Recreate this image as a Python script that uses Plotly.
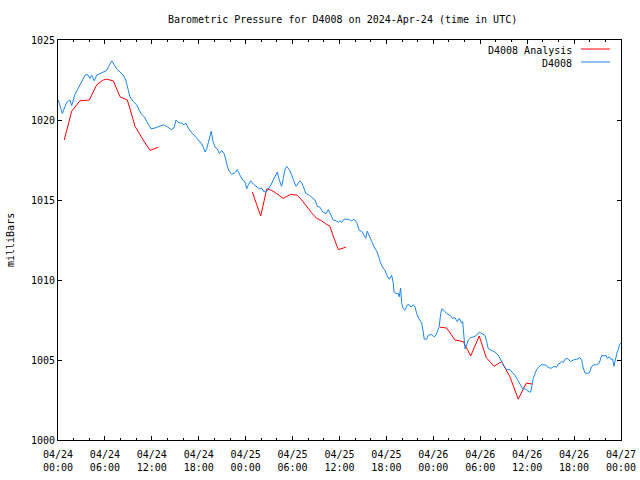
import pandas as pd
import plotly.graph_objects as go

START = pd.Timestamp("2024-04-24 00:00")

# D4008 observations: hours since start, pressure (mb)
obs_hours = [0.04, 0.55, 1.1, 1.53, 1.75, 2.17, 2.6, 3.03, 3.45, 3.75, 4.1, 4.3, 4.64, 4.95, 5.37, 5.8,
             6.23, 6.43, 6.87, 7.2, 7.5, 7.93, 8.35, 8.66, 8.9, 9.2, 9.63, 10.06, 10.6, 11.04, 11.47, 11.9,
             12.4, 13.04, 13.46, 13.9, 14.5, 14.83, 15.09, 15.38, 15.82, 16.11, 16.37, 16.66, 17.1, 17.52,
             17.94, 18.38, 18.58, 18.8, 19.02, 19.35, 19.6, 19.78, 20.08, 20.37, 20.63, 20.93, 21.23, 21.48,
             21.65, 21.9, 22.21, 22.63, 22.93, 23.27, 23.62, 23.91, 24.13, 24.34, 24.64, 24.97, 25.41, 25.74,
             26.05, 26.25, 26.69, 26.94, 27.24, 27.53, 27.88, 28.04, 28.3, 28.6, 28.81, 29.03, 29.25, 29.58,
             29.89, 30.18, 30.43, 30.73, 30.95, 31.16, 31.46, 31.71, 32.14, 32.57, 32.86, 33.16, 33.5, 33.85,
             34.27, 34.57, 34.87, 35.2, 35.55, 35.84, 36.06, 36.28, 36.57, 37.12, 37.56, 37.85, 38.2, 38.53,
             38.84, 39.13, 39.35, 39.55, 39.81, 40.12, 40.41, 40.75, 41.09, 41.18, 41.52, 41.82, 42.11, 42.37,
             42.67, 42.88, 42.97, 43.22, 43.52, 43.64, 43.82, 43.95, 44.16, 44.37, 44.67, 44.92, 45.14, 45.43,
             45.65, 45.87, 46.2, 46.51, 46.71, 46.84, 47.15, 47.35, 47.79, 48.08, 48.34, 48.5, 48.76, 48.94,
             49.1, 49.36, 49.71, 50.13, 50.47, 50.77, 51.06, 51.32, 51.62, 51.75, 51.92, 52.05, 52.26, 52.47,
             52.78, 53.2, 53.54, 53.87, 54.18, 54.6, 54.82, 55.03, 55.46, 55.88, 56.3, 56.61, 56.87, 57.16,
             57.46, 57.8, 58.14, 58.44, 58.73, 58.99, 59.16, 59.42, 59.72, 60.01, 60.27, 60.45, 60.58, 60.78,
             61.0, 61.21, 61.55, 61.85, 62.28, 62.57, 62.83, 63.13, 63.43, 63.77, 63.98, 64.19, 64.41, 64.62,
             64.83, 65.13, 65.38, 65.56, 65.9, 66.33, 66.75, 66.97, 67.17, 67.39, 67.68, 67.94, 68.25, 68.54,
             68.89, 69.22, 69.53, 69.82, 70.08, 70.25, 70.5, 70.68, 70.94, 71.1, 71.23, 71.36, 71.52, 71.7,
             71.78, 72.0]
obs_mb = [1021.25, 1020.4, 1021.1, 1021.25, 1020.9, 1021.6, 1022.0, 1022.4, 1022.8, 1022.85, 1022.6, 1022.8,
          1022.45, 1022.8, 1022.9, 1023.0, 1023.1, 1023.3, 1023.7, 1023.45, 1023.2, 1023.0, 1022.8, 1022.5,
          1022.0, 1021.45, 1021.15, 1020.95, 1020.4, 1020.2, 1019.8, 1019.45, 1019.5, 1019.6, 1019.7, 1019.6,
          1019.4, 1019.5, 1020.0, 1019.85, 1019.8, 1019.7, 1019.8, 1019.5, 1019.2, 1019.0, 1018.75, 1018.5,
          1018.3, 1018.0, 1018.2, 1018.75, 1019.3, 1018.75, 1018.3, 1018.2, 1017.9, 1018.1, 1017.9, 1017.5,
          1017.1, 1016.8, 1016.6, 1016.7, 1016.9, 1016.55, 1016.25, 1016.15, 1015.7, 1015.95, 1016.2, 1016.0,
          1015.8, 1015.7, 1015.75, 1015.55, 1015.55, 1015.7, 1015.95, 1016.25, 1016.65, 1016.75, 1016.25,
          1015.85, 1016.35, 1016.9, 1017.1, 1016.9, 1016.55, 1016.15, 1015.85, 1016.05, 1016.2, 1016.1,
          1015.7, 1015.4, 1015.3, 1015.1, 1015.0, 1014.6, 1014.55, 1014.25, 1014.15, 1014.4, 1014.05, 1013.75,
          1013.7, 1013.6, 1013.7, 1013.6, 1013.8, 1013.8, 1013.7, 1013.8, 1013.6, 1013.1, 1013.05, 1012.8,
          1012.6, 1013.05, 1012.8, 1012.4, 1012.1, 1011.8, 1011.35, 1011.15, 1010.8, 1010.6, 1010.25, 1010.05,
          1010.3, 1009.8, 1009.25, 1009.15, 1009.15, 1008.95, 1009.5, 1008.55, 1008.2, 1008.1, 1008.45,
          1008.45, 1008.3, 1008.45, 1008.35, 1007.9, 1007.55, 1007.3, 1006.75, 1006.3, 1006.3, 1006.55, 1006.6,
          1006.45, 1006.55, 1006.75, 1007.1, 1007.9, 1008.2, 1008.1, 1007.9, 1007.8, 1007.6, 1007.65, 1007.4,
          1007.6, 1007.3, 1007.4, 1006.45, 1005.7, 1005.95, 1006.25, 1006.4, 1006.45, 1006.55, 1006.75,
          1006.65, 1006.55, 1006.15, 1005.7, 1005.6, 1005.5, 1005.3, 1005.0, 1004.7, 1004.5, 1004.4, 1004.4,
          1004.2, 1004.05, 1003.8, 1003.55, 1003.35, 1003.2, 1003.2, 1003.1, 1003.0, 1003.0, 1003.4, 1003.85,
          1004.15, 1004.4, 1004.6, 1004.7, 1004.7, 1004.6, 1004.5, 1004.5, 1004.6, 1004.55, 1004.75, 1004.8,
          1004.9, 1004.85, 1005.05, 1005.1, 1005.0, 1004.9, 1005.0, 1005.05, 1005.15, 1005.0, 1004.5, 1004.2,
          1004.15, 1004.2, 1004.6, 1004.7, 1004.7, 1004.8, 1005.3, 1005.25, 1005.3, 1005.1, 1005.2, 1005.05,
          1005.05, 1004.6, 1004.9, 1005.25, 1005.5, 1005.7, 1005.95, 1006.05]

# D4008 Analysis: hours since start (None = gap), pressure (mb)
ana_hours = [0.8, 1.75, 2.8, 4.0, 4.95, 5.8, 6.2, 6.87, 7.07, 7.93, 8.86, 9.33, 9.85, 10.9, 11.76, 12.83,
             None,
             24.85, 25.92, 26.7, 27.33, 27.97, 28.8, 29.73, 30.6, 31.16, 31.78, 32.44, 33.08, 33.72, 34.27,
             34.78, 35.23, 35.84, 36.83,
             None,
             48.85, 49.7, 50.77, 51.83, 52.78, 53.87, 54.77, 55.75, 56.74, 57.8, 58.86, 59.88, 60.68]
ana_mb = [1018.75, 1020.55, 1021.2, 1021.25, 1022.2, 1022.5, 1022.55, 1022.5, 1022.45, 1021.45, 1021.25,
          1020.5, 1019.6, 1018.75, 1018.1, 1018.3,
          None,
          1015.5, 1014.0, 1015.7, 1015.6, 1015.4, 1015.1, 1015.35, 1015.3, 1015.0, 1014.6, 1014.2, 1013.85,
          1013.7, 1013.5, 1013.35, 1012.7, 1011.9, 1012.05,
          None,
          1007.05, 1007.0, 1006.25, 1006.15, 1005.25, 1006.5, 1005.15, 1004.6, 1004.9, 1003.95, 1002.55,
          1003.55, 1003.5]

tick_hours = list(range(0, 73, 6))
tick_labels = ["04/24<br>00:00", "04/24<br>06:00", "04/24<br>12:00", "04/24<br>18:00",
               "04/25<br>00:00", "04/25<br>06:00", "04/25<br>12:00", "04/25<br>18:00",
               "04/26<br>00:00", "04/26<br>06:00", "04/26<br>12:00", "04/26<br>18:00",
               "04/27<br>00:00"]
y_ticks = [1000, 1005, 1010, 1015, 1020, 1025]


def to_time(h):
    return None if h is None else START + pd.Timedelta(hours=h)


RED = "#ff0000"
BLUE = "#1a85f0"
FONT = "DejaVu Sans Mono"

fig = go.Figure()
fig.add_trace(go.Scatter(x=[to_time(h) for h in ana_hours], y=ana_mb, mode="lines",
                         line=dict(color=RED, width=1), connectgaps=False,
                         name="D4008 Analysis", showlegend=False))
fig.add_trace(go.Scatter(x=[to_time(h) for h in obs_hours], y=obs_mb, mode="lines",
                         line=dict(color=BLUE, width=1), name="D4008", showlegend=False))

fig.update_layout(
    width=640, height=480,
    margin=dict(l=58, r=19, t=40, b=40, autoexpand=False),
    paper_bgcolor="white", plot_bgcolor="white",
    font=dict(family=FONT, size=10, color="black"),
    showlegend=False,
)
fig.update_xaxes(
    range=[START, START + pd.Timedelta(hours=72)],
    tickvals=[to_time(h) for h in tick_hours], ticktext=tick_labels,
    ticks="inside", ticklen=4, tickcolor="black", automargin=False, ticklabelstandoff=5,
    minor=dict(dtick=2 * 3600 * 1000, ticks="inside", ticklen=2, tickcolor="black", showgrid=False),
    showline=True, linecolor="black", linewidth=1, mirror="allticks",
    showgrid=False, zeroline=False, tickfont=dict(family=FONT, size=10),
)
fig.update_yaxes(
    range=[1000, 1025], tickvals=y_ticks,
    ticks="inside", ticklen=4, tickcolor="black", automargin=False,
    showline=True, linecolor="black", linewidth=1, mirror="allticks",
    showgrid=False, zeroline=False, tickfont=dict(family=FONT, size=10),
)

annotations = [
    dict(text="Barometric Pressure for D4008 on 2024-Apr-24 (time in UTC)", xref="paper", yref="paper",
         x=342 / 640, y=1 - 20 / 480, xanchor="center", yanchor="middle", showarrow=False,
         font=dict(family=FONT, size=10)),
    dict(text="milliBars", xref="paper", yref="paper", x=10 / 640, y=0.5, textangle=-90,
         xanchor="center", yanchor="middle", showarrow=False, font=dict(family=FONT, size=10)),
]
shapes = []
for i, (name, col) in enumerate([("D4008 Analysis", RED), ("D4008", BLUE)]):
    ypx = 50 + 13 * i
    annotations.append(dict(text=name, xref="paper", yref="paper", x=574 / 640, y=1 - ypx / 480,
                            xanchor="right", yanchor="middle", showarrow=False,
                            font=dict(family=FONT, size=10)))
    shapes.append(dict(type="line", xref="paper", yref="paper", x0=581 / 640, x1=610 / 640,
                       y0=1 - (ypx - 1) / 480, y1=1 - (ypx - 1) / 480, line=dict(color=col, width=1)))

# convert page-pixel fractions to plot-area paper coordinates
pl, pr, pt, pb = 58, 621, 40, 440
for a in annotations:
    xp = a["x"] * 640
    yp = (1 - a["y"]) * 480
    a["x"] = (xp - pl) / (pr - pl)
    a["y"] = (pb - yp) / (pb - pt)
for s in shapes:
    for k in ("x0", "x1"):
        s[k] = (s[k] * 640 - pl) / (pr - pl)
    for k in ("y0", "y1"):
        s[k] = (pb - (1 - s[k]) * 480) / (pb - pt)

fig.update_layout(annotations=annotations, shapes=shapes)
fig.write_html("out.html")
